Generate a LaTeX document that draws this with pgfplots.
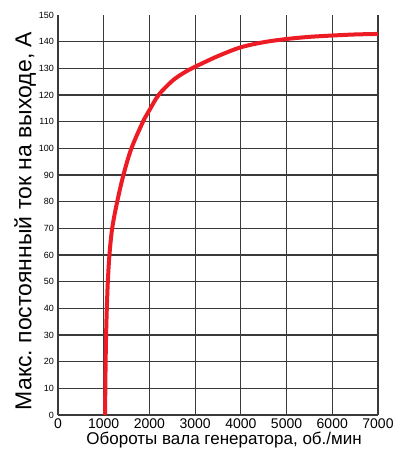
\documentclass[border=0pt]{standalone}
\usepackage{fontspec}
\setmainfont{Liberation Sans}
\usepackage{pgfplots}
\pgfplotsset{compat=1.18}
\definecolor{curvered}{HTML}{ED1C24}
\definecolor{gridgray}{HTML}{3A3A3A}
\frenchspacing
\begin{document}
\begin{tikzpicture}[x=1pt,y=1pt]
\begin{axis}[
  at={(0,0)}, anchor=south west,
  scale only axis, width=320pt, height=400pt,
  xmin=0, xmax=7000, ymin=0, ymax=150,
  axis lines*=left, axis line style={gridgray, line width=1.1pt},
  xtick={0,1000,...,7000},
  ytick={0,10,...,140},
  extra y ticks={150}, extra y tick style={grid=none},
  grid=major, major grid style={gridgray, line width=1.1pt},
  major tick length=0pt,
  /pgf/number format/assume math mode=true,
  /pgf/number format/1000 sep={},
  xticklabel style={font=\fontsize{14}{14}\selectfont, inner sep=1pt, yshift=-3pt},
  yticklabel style={font=\fontsize{9}{9}\selectfont, inner sep=1pt, xshift=-3pt},
  xlabel={Обороты вала генератора, об./мин},
  ylabel={Макс. постоянный ток на выходе, А},
  xlabel style={font=\fontsize{17}{17}\selectfont, at={(axis description cs:0.519,-0.0625)}, anchor=center},
  ylabel style={font=\fontsize{23}{23}\selectfont, at={(axis description cs:-0.103,0.485)}, anchor=center, rotate=0},
  clip=true,
]
\addplot[curvered, line width=4pt, smooth] coordinates {
(1030,0) (1035,10) (1042,20) (1052,30) (1068,40) (1090,50) (1125,60) (1185,70)
(1295,80) (1431,90) (1606,100) (1860,110) (2000,114.3) (2200,120) (2500,125.3)
(2750,128.3) (3000,130.6) (3500,134.6) (4000,137.9) (4500,139.8) (5000,141)
(5500,141.8) (6000,142.3) (6500,142.7) (7000,142.9)
};
\end{axis}
\pgfresetboundingbox
\useasboundingbox (-58pt,-38pt) rectangle (347pt,415pt);
\end{tikzpicture}
\end{document}
